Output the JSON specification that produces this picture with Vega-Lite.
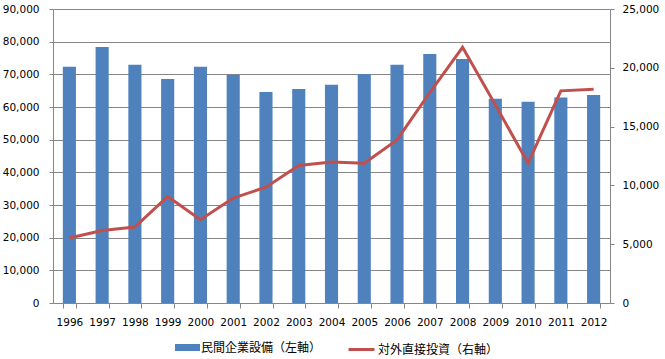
{
  "$schema": "https://vega.github.io/schema/vega-lite/v6.json",
  "width": 557,
  "height": 294,
  "autosize": {"type": "none"},
  "padding": {"left": 53, "top": 9, "right": 55, "bottom": 56},
  "background": "white",
  "config": {
    "view": {"stroke": null},
    "font": "DejaVu Sans",
    "axis": {
      "labelFont": "DejaVu Sans",
      "labelFontSize": 10.5,
      "labelColor": "#000000",
      "domainColor": "#868686",
      "tickColor": "#868686",
      "gridColor": "#868686",
      "title": null
    }
  },
  "data": {
    "values": [
      {"year": "1996", "capex": 72300, "fdi": 5520},
      {"year": "1997", "capex": 78400, "fdi": 6170},
      {"year": "1998", "capex": 72900, "fdi": 6460},
      {"year": "1999", "capex": 68600, "fdi": 9060},
      {"year": "2000", "capex": 72300, "fdi": 7080},
      {"year": "2001", "capex": 69900, "fdi": 8920},
      {"year": "2002", "capex": 64600, "fdi": 9850},
      {"year": "2003", "capex": 65500, "fdi": 11690},
      {"year": "2004", "capex": 66800, "fdi": 11980},
      {"year": "2005", "capex": 70100, "fdi": 11890},
      {"year": "2006", "capex": 72900, "fdi": 13870},
      {"year": "2007", "capex": 76200, "fdi": 17900},
      {"year": "2008", "capex": 74700, "fdi": 21740},
      {"year": "2009", "capex": 62500, "fdi": 16850},
      {"year": "2010", "capex": 61600, "fdi": 11890},
      {"year": "2011", "capex": 62900, "fdi": 18040},
      {"year": "2012", "capex": 63700, "fdi": 18180}
    ]
  },
  "encoding": {
    "x": {
      "field": "year",
      "type": "ordinal",
      "scale": {"paddingInner": 0.6, "paddingOuter": 0.3},
      "axis": {
        "labelAngle": 0,
        "tickBand": "extent",
        "tickSize": 5,
        "labelPadding": 9,
        "grid": false
      }
    }
  },
  "layer": [
    {
      "mark": {"type": "bar"},
      "encoding": {
        "y": {
          "field": "capex",
          "type": "quantitative",
          "scale": {"domain": [0, 90000], "nice": false},
          "axis": {
            "orient": "left",
            "values": [0, 10000, 20000, 30000, 40000, 50000, 60000, 70000, 80000, 90000],
            "format": ",d",
            "grid": true,
            "tickSize": 4,
            "labelPadding": 10
          }
        },
        "color": {
          "datum": "民間企業設備（左軸）",
          "type": "nominal",
          "scale": {"range": ["#4F81BD"]},
          "legend": {
            "orient": "none",
            "legendX": 122,
            "legendY": 326,
            "title": null,
            "padding": 0,
            "symbolType": "M-1,-0.28H1V0.28H-1Z",
            "symbolSize": 625,
            "symbolStrokeWidth": 0,
            "labelFont": "Noto Sans CJK JP",
            "labelFontSize": 12,
            "labelColor": "#000000",
            "labelOffset": 1
          }
        }
      }
    },
    {
      "mark": {"type": "line", "strokeWidth": 3},
      "encoding": {
        "y": {
          "field": "fdi",
          "type": "quantitative",
          "scale": {"domain": [0, 25000], "nice": false},
          "axis": {
            "orient": "right",
            "values": [0, 5000, 10000, 15000, 20000, 25000],
            "format": ",d",
            "grid": false,
            "tickSize": 4,
            "labelPadding": 8
          }
        },
        "stroke": {
          "datum": "対外直接投資（右軸）",
          "type": "nominal",
          "scale": {"range": ["#C0504D"]},
          "legend": {
            "orient": "none",
            "legendX": 294,
            "legendY": 326,
            "title": null,
            "padding": 0,
            "symbolType": "M-1,0H1",
            "symbolSize": 676,
            "symbolStrokeWidth": 3,
            "labelFont": "Noto Sans CJK JP",
            "labelFontSize": 12,
            "labelColor": "#000000",
            "labelOffset": 2
          }
        }
      }
    }
  ],
  "resolve": {"scale": {"y": "independent"}}
}
